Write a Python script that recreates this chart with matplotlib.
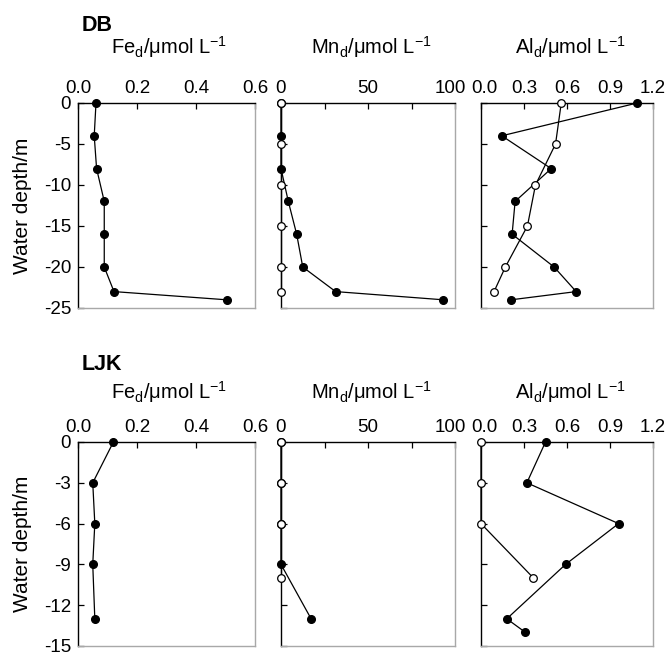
import matplotlib
matplotlib.use("Agg")
import matplotlib.pyplot as plt
import matplotlib.transforms as mtransforms
from matplotlib.ticker import MultipleLocator, FormatStrFormatter

plt.rcParams['font.family'] = ['Liberation Sans', 'DejaVu Sans']
plt.rcParams['mathtext.fontset'] = 'custom'
plt.rcParams['mathtext.rm'] = 'Liberation Sans'
plt.rcParams['mathtext.it'] = 'Liberation Sans:italic'
plt.rcParams['axes.unicode_minus'] = False

# ---- DB station ----
db_depth = [0, -4, -8, -12, -16, -20, -23, -24]
db_fe = [0.061, 0.055, 0.063, 0.089, 0.089, 0.089, 0.122, 0.504]
db_mn_f = [0, 0, 0, 4.2, 9.0, 12.5, 31.4, 93.3]
db_al_f = [1.09, 0.145, 0.49, 0.238, 0.217, 0.51, 0.664, 0.21]
db_open_depth = [0, -5, -10, -15, -20, -23]
db_mn_o = [0, 0, 0, 0, 0, 0]
db_al_o = [0.56, 0.52, 0.38, 0.324, 0.17, 0.091]

# ---- LJK station ----
ljk_depth = [0, -3, -6, -9, -13]
ljk_fe = [0.12, 0.05, 0.057, 0.05, 0.057]
ljk_mn_f = [0, 0, 0, 0, 17.3]
ljk_al_depth = [0, -3, -6, -9, -13, -14]
ljk_al_f = [0.45, 0.32, 0.96, 0.59, 0.18, 0.31]
ljk_open_depth = [0, -3, -6, -10]
ljk_mn_o = [0, 0, 0, 0]
ljk_al_o = [0, 0, 0, 0.366]

titles = [r'Fe$_\mathregular{d}$/μmol L$^{\mathregular{−1}}$',
          r'Mn$_\mathregular{d}$/μmol L$^{\mathregular{−1}}$',
          r'Al$_\mathregular{d}$/μmol L$^{\mathregular{−1}}$']
xlims = [(0, 0.6), (0, 100), (0, 1.2)]
xticks = [[0, 0.2, 0.4, 0.6], [0, 50, 100], [0, 0.3, 0.6, 0.9, 1.2]]
xminor = [0.2, 25, 0.3]
xfmt = ['%.1f', '%d', '%.1f']

W, H = 668, 652
fig = plt.figure(figsize=(W / 100, H / 100), dpi=100)

lefts = [78, 281, 481]
widths = [177, 174, 172]
rows = [(103, 308), (442, 646)]

grey = '#a8a8a8'


def make_axes(row, col, ylim, ystep):
    top, bot = rows[row]
    ax = fig.add_axes([lefts[col] / W, 1 - bot / H, widths[col] / W, (bot - top) / H])
    ax.set_xlim(*xlims[col])
    ax.set_ylim(*ylim)
    ax.set_xticks(xticks[col])
    ax.xaxis.set_minor_locator(MultipleLocator(xminor[col]))
    ax.xaxis.set_major_formatter(FormatStrFormatter(xfmt[col]))
    ax.yaxis.set_major_locator(MultipleLocator(ystep))
    ax.xaxis.tick_top()
    ax.tick_params(axis='both', which='both', direction='in', length=4, width=0.9,
                   labelsize=13.5, pad=5, right=False, bottom=False)
    ax.tick_params(axis='x', which='minor', labeltop=False)
    ax.tick_params(axis='x', pad=4)
    if col != 0:
        ax.tick_params(axis='y', labelleft=False)
    # nudge crowded end labels apart, as in the original
    if col == 1:
        lbl = ax.xaxis.get_major_ticks()[-1].label2
        lbl.set_transform(lbl.get_transform() +
                          mtransforms.ScaledTranslation(-5 / 100, 0, fig.dpi_scale_trans))
    if col == 2:
        lbl = ax.xaxis.get_major_ticks()[0].label2
        lbl.set_transform(lbl.get_transform() +
                          mtransforms.ScaledTranslation(3 / 100, 0, fig.dpi_scale_trans))
    for s in ['left', 'top']:
        ax.spines[s].set_color('black')
        ax.spines[s].set_linewidth(1.0)
    for s in ['right', 'bottom']:
        ax.spines[s].set_color(grey)
        ax.spines[s].set_linewidth(1.0)
    return ax


def filled(ax, x, y):
    ax.plot(x, y, color='black', lw=0.9, marker='o', ms=5.5, mfc='black',
            mec='black', clip_on=False, zorder=3)


def hollow(ax, x, y):
    ax.plot(x, y, color='black', lw=0.9, marker='o', ms=5.5, mfc='white',
            mec='black', mew=0.9, clip_on=False, zorder=4)


# top row: DB
a0 = make_axes(0, 0, (-25, 0), 5)
filled(a0, db_fe, db_depth)
a1 = make_axes(0, 1, (-25, 0), 5)
filled(a1, db_mn_f, db_depth)
hollow(a1, db_mn_o, db_open_depth)
a2 = make_axes(0, 2, (-25, 0), 5)
filled(a2, db_al_f, db_depth)
hollow(a2, db_al_o, db_open_depth)

# bottom row: LJK
b0 = make_axes(1, 0, (-15, 0), 3)
filled(b0, ljk_fe, ljk_depth)
b1 = make_axes(1, 1, (-15, 0), 3)
filled(b1, ljk_mn_f, ljk_depth)
hollow(b1, ljk_mn_o, ljk_open_depth)
b2 = make_axes(1, 2, (-15, 0), 3)
filled(b2, ljk_al_f, ljk_al_depth)
hollow(b2, ljk_al_o, ljk_open_depth)

# panel titles and labels
for row, base in [(0, 54), (1, 399)]:
    for col in range(3):
        cx = (lefts[col] + widths[col] / 2 + 3) / W
        fig.text(cx, 1 - base / H, titles[col], fontsize=14.5, ha='center', va='baseline')
    top, bot = rows[row]
    fig.text(23 / W, 1 - (top + bot) / 2 / H, 'Water depth/m', fontsize=15,
             rotation=90, ha='center', va='center')

fig.text(82 / W, 1 - 31 / H, 'DB', fontsize=15.5, fontweight='bold', ha='left', va='baseline')
fig.text(82 / W, 1 - 370 / H, 'LJK', fontsize=15.5, fontweight='bold', ha='left', va='baseline')

fig.savefig('out.png', dpi=100)
